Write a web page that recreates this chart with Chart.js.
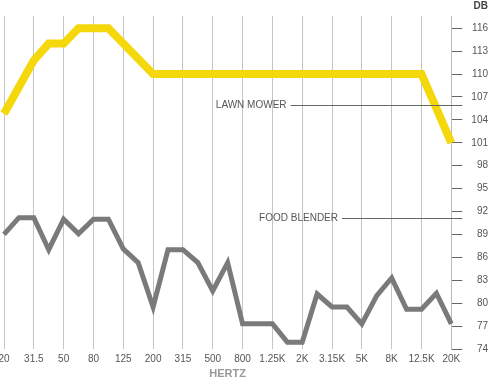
<!DOCTYPE html>
<html>
<head>
<meta charset="utf-8">
<script src="https://cdn.jsdelivr.net/npm/chart.js@4.4.1/dist/chart.umd.min.js"></script>
<style>
  html, body { margin: 0; padding: 0; background: #fff; }
  #wrap { width: 489px; height: 379px; }
</style>
</head>
<body>
<div id="wrap"><canvas id="myChart1"></canvas></div>
<script>
// third-octave bands, label shown every other band
const bands = ['20', '25', '31.5', '40', '50', '63', '80', '100', '125', '160', '200', '250', '315', '400', '500', '630',
    '800', '1K', '1.25K', '1.6K', '2K', '2.5K', '3.15K', '4K', '5K', '6.3K', '8K', '10K', '12.5K', '16K', '20K'];

const lawnMower = [104.8, 108.3, 111.8, 114, 114, 116, 116, 116, 114, 112,
    110, 110, 110, 110, 110, 110, 110, 110, 110, 110, 110, 110, 110, 110, 110, 110, 110, 110, 110,
    105.5, 101];

const foodBlender = [89, 91.2, 91.2, 87, 91, 89.1, 91, 91, 87.1, 85.3, 79.5, 87, 87, 85.3, 81.6, 85.3,
    77.3, 77.3, 77.3, 74.9, 74.9, 81.2, 79.5, 79.5, 77.3, 81, 83.3, 79.2, 79.2, 81.3, 77.3];

const yTicks = [74, 77, 80, 83, 86, 89, 92, 95, 98, 101, 104, 107, 110, 113, 116];

// series labels: text, dB level of the leader line, band position where the text ends
const seriesNames = ['LAWN MOWER', 'FOOD BLENDER'];
const nameLevels = [106, 91.1];
const nameEnds = [18.95, 22.4];

const fontFamily = '"Liberation Sans", Arial, sans-serif';

// desenha os rótulos das séries e o título "DB"
const labelsPlugin = {
    id: 'seriesLabels',
    afterDatasetsDraw(chart) {
        const ctx = chart.ctx;
        const x = chart.scales.x;
        const y = chart.scales.y;
        const lineEnd = chart.chartArea.right + 11;
        ctx.save();
        ctx.font = '10px ' + fontFamily;
        ctx.fillStyle = '#555';
        ctx.strokeStyle = '#666';
        ctx.lineWidth = 1;
        ctx.textBaseline = 'middle';
        ctx.textAlign = 'right';
        seriesNames.forEach((name, i) => {
            const py = Math.round(y.getPixelForValue(nameLevels[i])) + 0.5;
            const tx = x.getPixelForValue(nameEnds[i]);
            ctx.fillText(name, tx, py);
            ctx.beginPath();
            ctx.moveTo(tx + 4, py);
            ctx.lineTo(lineEnd, py);
            ctx.stroke();
        });
        ctx.font = 'bold 10px ' + fontFamily;
        ctx.fillStyle = '#444';
        ctx.fillText('DB', chart.width - 1, 6);
        ctx.restore();
    }
};

const canvas = document.getElementById('myChart1');
new Chart(canvas.getContext('2d'), {
    type: 'line',
    data: {
        labels: bands,
        datasets: [
            {
                label: 'Lawn mower',
                data: lawnMower,
                borderColor: '#f4d80c',
                borderWidth: 8,
                pointRadius: 0,
                tension: 0
            },
            {
                label: 'Food blender',
                data: foodBlender,
                borderColor: '#7a7a7a',
                borderWidth: 5,
                pointRadius: 0,
                tension: 0
            }
        ]
    },
    options: {
        responsive: true,
        maintainAspectRatio: false,
        animation: false,
        layout: {
            padding: { top: 16, right: 1, left: 4, bottom: 0 }
        },
        scales: {
            x: {
                type: 'category',
                offset: false,
                afterFit: scale => {
                    // o rótulo "20" pode encostar na borda
                    scale.paddingLeft = 0;
                    scale.paddingRight = 0;
                },
                border: { display: false },
                grid: {
                    drawTicks: false,
                    color: c => (c.index % 2 === 0 ? '#c4c4c4' : 'rgba(0,0,0,0)'),
                    lineWidth: 1
                },
                ticks: {
                    autoSkip: false,
                    maxRotation: 0,
                    padding: 4,
                    color: '#555',
                    font: { family: fontFamily, size: 10 },
                    callback: function(value, index) {
                        return index % 2 === 0 ? this.getLabelForValue(value) : '';
                    }
                },
                title: {
                    display: true,
                    text: 'HERTZ',
                    color: '#999',
                    padding: { top: -1, bottom: 0 },
                    font: { family: fontFamily, size: 11, weight: 'bold', lineHeight: 1 }
                }
            },
            y: {
                position: 'right',
                min: 74,
                max: 117.6,
                afterBuildTicks: scale => {
                    scale.ticks = yTicks.map(v => ({ value: v }));
                },
                border: { display: true, color: '#bbb' },
                grid: {
                    drawOnChartArea: false,
                    drawTicks: true,
                    tickLength: 11,
                    color: '#666'
                },
                ticks: {
                    padding: 4.5,
                    crossAlign: 'far',
                    color: '#555',
                    font: { family: fontFamily, size: 10 }
                }
            }
        },
        plugins: {
            legend: { display: false },
            tooltip: { enabled: false }
        }
    },
    plugins: [labelsPlugin]
});
</script>
</body>
</html>
